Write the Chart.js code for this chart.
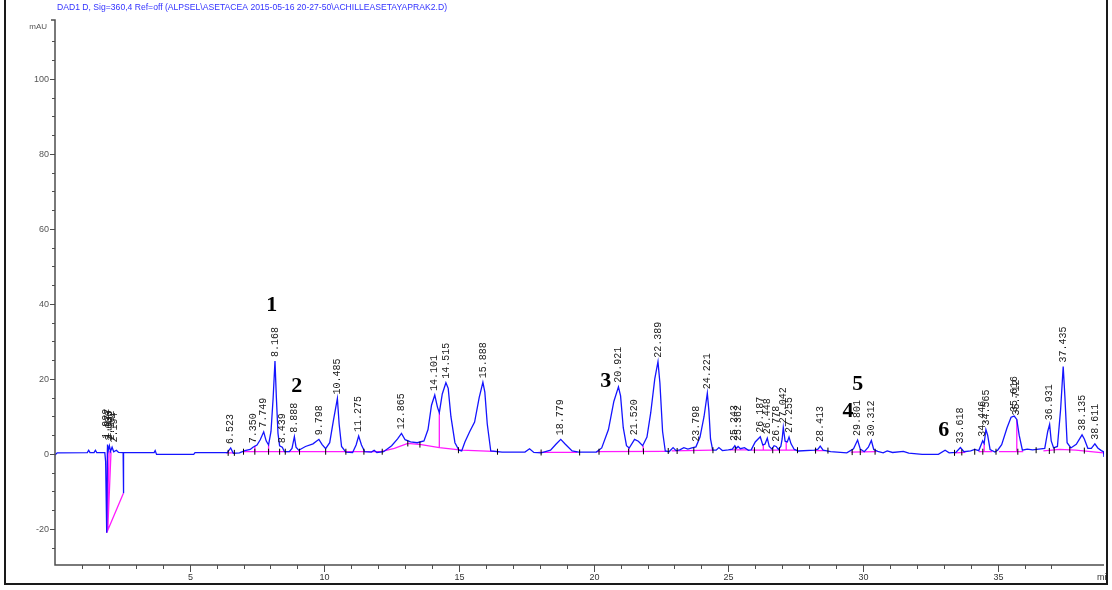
<!DOCTYPE html>
<html>
<head>
<meta charset="utf-8">
<script src="https://cdn.jsdelivr.net/npm/chart.js@4/dist/chart.umd.min.js"></script>
<style>
  html, body { margin: 0; padding: 0; background: #ffffff; }
  canvas { display: block; }
</style>
</head>
<body>
<canvas id="chrom" width="1112" height="590"></canvas>
<script>
// DAD signal at 360 nm: retention time (min) vs absorbance (mAU)
const signalTitle = 'DAD1 D, Sig=360,4 Ref=off (ALPSEL\\ASETACEA 2015-05-16 20-27-50\\ACHILLEASETAYAPRAK2.D)';
const yUnit = 'mAU';
const xUnit = 'min';

const traceTimes = [
  0.00, 0.08, 1.20, 1.25, 1.30, 1.45, 1.50, 1.55, 1.85, 1.88, 1.92, 1.95, 1.98, 2.02, 2.06, 2.12, 2.18, 2.28, 2.36, 2.53, 2.54, 2.55,
  3.68, 3.72, 3.77, 5.15, 5.20, 6.40, 6.523, 6.62, 6.85, 7.05, 7.25, 7.35, 7.50, 7.62, 7.749, 7.84, 7.93, 8.02, 8.10, 8.168, 8.22, 8.28,
  8.34, 8.439, 8.52, 8.70, 8.80, 8.888, 8.95, 9.05, 9.30, 9.58, 9.798, 9.92, 10.05, 10.20, 10.34, 10.485, 10.55, 10.64, 10.80, 11.05,
  11.18, 11.275, 11.38, 11.50, 11.75, 11.85, 11.95, 12.20, 12.50, 12.72, 12.865, 13.00, 13.20, 13.45, 13.70, 13.85, 13.98, 14.101, 14.20,
  14.27, 14.38, 14.515, 14.60, 14.70, 14.85, 15.00, 15.10, 15.22, 15.40, 15.58, 15.75, 15.888, 15.96, 16.05, 16.18, 16.60, 17.45, 17.62,
  17.78, 18.05, 18.40, 18.60, 18.779, 18.95, 19.20, 19.45, 20.10, 20.30, 20.55, 20.75, 20.921, 21.00, 21.10, 21.22, 21.32, 21.52, 21.66,
  21.82, 21.98, 22.12, 22.27, 22.389, 22.46, 22.56, 22.66, 22.80, 22.95, 23.06, 23.20, 23.35, 23.50, 23.65, 23.798, 23.95, 24.10, 24.221,
  24.28, 24.34, 24.42, 24.55, 24.65, 24.78, 25.00, 25.15, 25.243, 25.30, 25.362, 25.45, 25.60, 25.75, 25.85, 26.00, 26.187, 26.28, 26.36,
  26.448, 26.52, 26.62, 26.70, 26.778, 26.86, 26.95, 27.00, 27.042, 27.11, 27.19, 27.255, 27.33, 27.45, 27.60, 28.20, 28.33, 28.413, 28.52,
  28.80, 29.40, 29.65, 29.801, 29.90, 30.05, 30.20, 30.312, 30.40, 30.55, 30.75, 30.90, 31.10, 31.50, 31.70, 32.20, 32.80, 33.05, 33.20,
  33.45, 33.618, 33.75, 34.00, 34.15, 34.30, 34.446, 34.50, 34.565, 34.63, 34.72, 34.90, 35.00, 35.15, 35.35, 35.50, 35.616, 35.712, 35.80,
  35.92, 36.10, 36.30, 36.75, 36.86, 36.931, 36.99, 37.08, 37.22, 37.34, 37.435, 37.50, 37.58, 37.72, 37.92, 38.135, 38.22, 38.35, 38.48,
  38.611, 38.72, 38.85, 38.93, 38.95
];
const traceValues = [
  -0.3, 0.3, 0.35, 1.0, 0.35, 0.35, 1.0, 0.35, 0.35, -2.0, -21.0, 2.5, 1.0, 2.2, 0.7, 1.8, 0.6, 1.0, 0.4, 0.35, -10.5, 0.35,
  0.35, 0.9, -0.1, -0.1, 0.35, 0.35, 1.6, 0.2, 0.3, 0.9, 1.2, 1.8, 2.4, 3.8, 5.9, 3.5, 2.4, 6.0, 15.0, 24.8, 15.0, 5.5,
  2.2, 1.8, 0.6, 0.6, 1.5, 4.6, 1.8, 1.0, 2.0, 2.7, 3.9, 2.5, 1.4, 3.0, 9.0, 14.8, 8.0, 2.0, 0.5, 0.4,
  2.4, 4.8, 2.4, 0.6, 0.5, 1.0, 0.4, 0.6, 2.2, 4.0, 5.5, 3.8, 3.2, 3.0, 3.5, 6.5, 13.0, 15.7, 12.5,
  11.0, 16.0, 19.0, 17.5, 10.0, 3.0, 1.0, 0.8, 3.2, 6.0, 8.5, 15.0, 19.1, 16.5, 8.0, 0.8, 0.5, 0.5, 1.4,
  0.4, 0.3, 1.0, 2.6, 3.9, 2.6, 0.8, 0.5, 0.5, 1.6, 6.5, 14.0, 17.9, 15.5, 7.0, 2.2, 1.6, 3.9, 3.4,
  2.2, 4.5, 11.0, 20.0, 24.6, 19.0, 6.0, 0.8, 0.6, 1.7, 0.9, 1.1, 1.7, 1.3, 1.6, 1.9, 4.5, 10.0, 16.2,
  11.5, 4.0, 1.0, 1.0, 1.7, 0.9, 1.1, 1.3, 2.2, 1.5, 2.0, 1.4, 1.7, 1.0, 1.1, 3.2, 4.6, 2.4, 2.6,
  4.2, 2.0, 1.3, 2.2, 2.0, 1.2, 2.0, 4.0, 7.1, 3.4, 3.2, 4.5, 2.7, 1.2, 0.8, 1.0, 1.3, 2.1, 1.0,
  0.6, 0.3, 1.4, 3.7, 1.3, 0.6, 1.8, 3.6, 1.2, 0.7, 0.3, 0.8, 0.4, 0.7, 0.2, -0.1, -0.1, 1.0, 0.3,
  0.4, 1.7, 0.6, 0.8, 1.2, 0.9, 3.5, 2.8, 6.5, 5.0, 1.2, 0.5, 1.0, 2.5, 7.0, 9.8, 10.1, 9.2, 5.0,
  1.0, 1.3, 1.1, 1.5, 6.0, 7.9, 3.5, 1.6, 2.0, 12.0, 23.3, 15.0, 3.0, 1.6, 2.6, 5.1, 4.0, 1.5, 1.5,
  2.7, 1.6, 0.9, 0.6, -0.8
];

// Integration baselines and peak drop lines (null starts a new segment)
const baselineTimes = [
  1.92, 1.95, null, 1.93, 2.01, null, 1.96, 2.08, null, 1.92, 2.54, null,
  6.35, 6.66, null, 7.0, 12.1, null, 7.42, 7.42, null, 7.93, 7.93, null,
  12.1, 12.6, 13.1, 13.6, 14.27, 15.1, 16.5, null, 14.27, 14.27, null,
  17.95, 19.4, null, 20.1, 22.7, null, 21.3, 21.3, null, 21.84, 21.84, null,
  22.9, 24.42, null, 25.05, 25.75, null, 25.85, 27.5, null, 26.3, 26.3, null, 27.15, 27.15, null,
  28.2, 28.6, null, 29.55, 30.5, null, 33.4, 33.8, null,
  34.3, 34.8, null, 34.5, 34.5, null, 35.05, 35.95, null, 35.712, 35.712, null,
  36.7, 37.3, 37.9, 38.93
];
const baselineValues = [
  -21.0, 1.5, null, -20.6, 0.8, null, -20.2, 0.6, null, -21.0, -10.5, null,
  0.3, 0.3, null, 0.6, 0.6, null, 2.2, 0.6, null, 2.4, 0.6, null,
  0.6, 1.5, 2.8, 2.5, 1.7, 1.0, 0.6, null, 11.0, 1.7, null,
  0.4, 0.4, null, 0.6, 0.7, null, 1.6, 0.6, null, 2.2, 0.7, null,
  0.8, 1.0, null, 1.1, 1.1, null, 1.0, 1.0, null, 2.4, 1.0, null, 3.3, 1.0, null,
  0.9, 0.9, null, 0.5, 0.6, null, 0.3, 0.4, null,
  0.6, 0.6, null, 2.8, 0.6, null, 0.6, 0.6, null, 9.2, 0.6, null,
  0.8, 1.2, 1.0, 0.3
];

// Peak start / end markers
const markerTimes = [
  6.43, 6.66, 7.0, 7.42, 7.93, 8.34, 8.55, 9.08, 10.05, 10.8, 11.47, 12.15, 13.1, 13.55, 14.98, 16.43, 18.05, 19.48,
  20.2, 21.3, 21.85, 22.77, 23.1, 23.72, 24.43, 25.26, 25.97, 26.65, 26.9, 27.57, 28.24, 28.7,
  29.6, 29.9, 30.45, 33.4, 33.67, 34.15, 34.45, 34.94, 35.75, 36.43, 36.92, 37.1, 37.68, 38.22
];
const markerValues = [
  0.3, 0.3, 0.6, 0.6, 0.6, 0.6, 0.6, 0.6, 0.6, 0.6, 0.6, 0.6, 2.8, 2.5, 1.0, 0.6, 0.4, 0.4,
  0.6, 0.6, 0.7, 0.8, 0.8, 0.9, 1.0, 1.1, 1.0, 1.0, 1.0, 1.0, 0.9, 0.9,
  0.5, 0.5, 0.6, 0.3, 0.4, 0.6, 0.6, 0.6, 0.6, 1.0, 0.8, 1.0, 1.1, 0.9
];

// Retention time labels written above the peaks
const peakLabels = [
  '1.922', '1.977', '2.036', '2.102', '2.194',
  '6.523', '7.350', '7.749', '8.168', '8.439', '8.888', '9.798', '10.485', '11.275', '12.865',
  '14.101', '14.515', '15.888', '18.779', '20.921', '21.520', '22.389', '23.798', '24.221',
  '25.243', '25.362', '26.187', '26.448', '26.778', '27.042', '27.255', '28.413', '29.801', '30.312',
  '33.618', '34.446', '34.565', '35.616', '35.712', '36.931', '37.435', '38.135', '38.611'
];
const peakTimes = [
  1.922, 1.977, 2.036, 2.102, 2.194,
  6.523, 7.350, 7.749, 8.168, 8.439, 8.888, 9.798, 10.485, 11.275, 12.865,
  14.101, 14.515, 15.888, 18.779, 20.921, 21.520, 22.389, 23.798, 24.221,
  25.243, 25.362, 26.187, 26.448, 26.778, 27.042, 27.255, 28.413, 29.801, 30.312,
  33.618, 34.446, 34.565, 35.616, 35.712, 36.931, 37.435, 38.135, 38.611
];
const peakHeights = [
  3.0, 3.0, 2.5, 2.5, 2.0,
  1.6, 1.8, 5.9, 24.8, 1.8, 4.6, 3.9, 14.8, 4.8, 5.5,
  15.7, 19.0, 19.1, 3.9, 17.9, 3.9, 24.6, 2.2, 16.2,
  2.4, 2.4, 4.6, 4.2, 2.2, 7.1, 4.5, 2.1, 3.7, 3.6,
  1.7, 3.5, 6.5, 10.1, 9.2, 7.9, 23.3, 5.1, 2.7
];

// Numbered compounds
const compoundNumbers = ['1', '2', '3', '4', '5', '6'];
const compoundTimes = [8.05, 8.98, 20.45, 29.44, 29.81, 33.0];
const compoundValues = [39.7, 18.1, 19.5, 11.5, 18.7, 6.4];

const xTickLabels = [5, 10, 15, 20, 25, 30, 35];
const yTickLabels = [-20, 0, 20, 40, 60, 80, 100];

const tickFont = '"Liberation Sans Narrow", "Liberation Sans", Arial, sans-serif';

const chromDecor = {
  id: 'chromDecor',
  beforeDraw(chart) {
    const ctx = chart.ctx;
    ctx.save();
    ctx.fillStyle = '#ffffff';
    ctx.fillRect(0, 0, chart.width, chart.height);
    ctx.restore();
  },
  afterDraw(chart) {
    const { ctx, chartArea: a, scales: { x, y } } = chart;
    ctx.save();

    // axis lines
    ctx.strokeStyle = '#4d4d4d';
    ctx.lineWidth = 1.5;
    ctx.beginPath();
    ctx.moveTo(a.left - 4, a.top);
    ctx.lineTo(a.left, a.top);
    ctx.lineTo(a.left, a.bottom);
    ctx.lineTo(a.right, a.bottom);
    ctx.stroke();

    // y ticks every 5 mAU, labelled every 20
    ctx.lineWidth = 1;
    ctx.fillStyle = '#555555';
    ctx.font = '9px ' + tickFont;
    ctx.textAlign = 'right';
    ctx.textBaseline = 'middle';
    y.ticks.forEach(t => {
      const v = t.value;
      if (Math.abs(v / 5 - Math.round(v / 5)) > 1e-6) return;
      const p = Math.round(y.getPixelForValue(v)) + 0.5;
      const major = yTickLabels.includes(v);
      const len = major ? 5 : 3;
      ctx.beginPath();
      ctx.moveTo(a.left - len, p);
      ctx.lineTo(a.left, p);
      ctx.stroke();
      if (major) ctx.fillText(String(v), a.left - 6, p);
    });

    // x ticks every minute, labelled every 5 minutes
    ctx.fillStyle = '#333333';
    ctx.textAlign = 'center';
    x.ticks.forEach(t => {
      const v = t.value;
      if (v <= 0 || Math.abs(v - Math.round(v)) > 1e-6) return;
      const p = Math.round(x.getPixelForValue(v)) + 0.5;
      const major = xTickLabels.includes(v);
      const len = major ? 7 : 4;
      ctx.beginPath();
      ctx.moveTo(p, a.bottom);
      ctx.lineTo(p, a.bottom + len);
      ctx.stroke();
      if (major) ctx.fillText(String(v), p, a.bottom + 13);
    });

    // unit labels
    ctx.fillStyle = '#555555';
    ctx.font = '8px ' + tickFont;
    ctx.textAlign = 'right';
    ctx.fillText(yUnit, a.left - 8, a.top + 7);
    ctx.save();
    ctx.beginPath();
    ctx.rect(a.right - 10, a.bottom, 12, 20);
    ctx.clip();
    ctx.textAlign = 'left';
    ctx.font = '9px ' + tickFont;
    ctx.fillStyle = '#333333';
    ctx.fillText(xUnit, a.right - 7, a.bottom + 13);
    ctx.restore();

    // signal title
    ctx.fillStyle = '#3333ff';
    ctx.font = '9px ' + tickFont;
    ctx.textAlign = 'left';
    ctx.textBaseline = 'middle';
    const w = ctx.measureText(signalTitle).width;
    ctx.save();
    ctx.translate(57, 8);
    ctx.scale(390 / w, 1);
    ctx.fillText(signalTitle, 0, 0);
    ctx.restore();

    // retention time labels
    ctx.fillStyle = '#1a1a1a';
    ctx.font = '10px "Liberation Mono", "DejaVu Sans Mono", monospace';
    ctx.textAlign = 'left';
    ctx.textBaseline = 'middle';
    peakLabels.forEach((lab, i) => {
      const px = x.getPixelForValue(peakTimes[i]);
      const py = y.getPixelForValue(peakHeights[i]) - 4;
      ctx.save();
      ctx.translate(px, py);
      ctx.rotate(-Math.PI / 2);
      ctx.fillText(lab, 0, 0);
      ctx.restore();
    });

    // compound numbers
    ctx.fillStyle = '#000000';
    ctx.font = 'bold 22px "Liberation Serif", "DejaVu Serif", serif';
    ctx.textAlign = 'center';
    ctx.textBaseline = 'middle';
    compoundNumbers.forEach((n, i) => {
      ctx.fillText(n, x.getPixelForValue(compoundTimes[i]), y.getPixelForValue(compoundValues[i]));
    });

    // outer frame
    ctx.strokeStyle = '#1a1a1a';
    ctx.lineWidth = 2;
    ctx.beginPath();
    ctx.moveTo(5, 0);
    ctx.lineTo(5, 584);
    ctx.lineTo(1107, 584);
    ctx.lineTo(1107, 0);
    ctx.stroke();

    ctx.restore();
  }
};

const tracePoints = traceTimes.map((t, i) => ({ x: t, y: traceValues[i] }));
const baselinePoints = baselineTimes.map((t, i) =>
  t === null ? { x: baselineTimes[i - 1], y: null } : { x: t, y: baselineValues[i] });
const markerPoints = markerTimes.map((t, i) => ({ x: t, y: markerValues[i] }));

new Chart(document.getElementById('chrom'), {
  type: 'line',
  data: {
    datasets: [
      {
        label: 'markers',
        data: markerPoints,
        showLine: false,
        pointStyle: 'line',
        rotation: 90,
        pointRadius: 3,
        borderColor: '#000000',
        borderWidth: 1,
        order: 0
      },
      {
        label: 'signal',
        data: tracePoints,
        borderColor: '#1414ff',
        borderWidth: 1.3,
        pointRadius: 0,
        tension: 0,
        order: 1
      },
      {
        label: 'baseline',
        data: baselinePoints,
        borderColor: '#ff1aff',
        borderWidth: 1.3,
        pointRadius: 0,
        tension: 0,
        spanGaps: false,
        order: 2
      }
    ]
  },
  options: {
    responsive: false,
    animation: false,
    devicePixelRatio: 1,
    layout: { padding: { left: 0, right: 8, top: 20, bottom: 0 } },
    plugins: { legend: { display: false }, tooltip: { enabled: false } },
    scales: {
      x: {
        type: 'linear',
        min: 0,
        max: 38.95,
        grid: { display: false },
        border: { display: false },
        afterFit(scale) { scale.height = 25; },
        ticks: {
          stepSize: 1,
          autoSkip: false,
          maxRotation: 0,
          color: 'rgba(0,0,0,0)',
          font: { family: tickFont, size: 9 },
          callback: v => (xTickLabels.includes(v) ? String(v) : '')
        }
      },
      y: {
        min: -29.6,
        max: 115.7,
        grid: { display: false },
        border: { display: false },
        afterFit(scale) { scale.width = 55; },
        ticks: {
          stepSize: 5,
          autoSkip: false,
          color: 'rgba(0,0,0,0)',
          font: { family: tickFont, size: 9 },
          callback: v => (yTickLabels.includes(v) ? String(v) : '')
        }
      }
    }
  },
  plugins: [chromDecor]
});
</script>
</body>
</html>
